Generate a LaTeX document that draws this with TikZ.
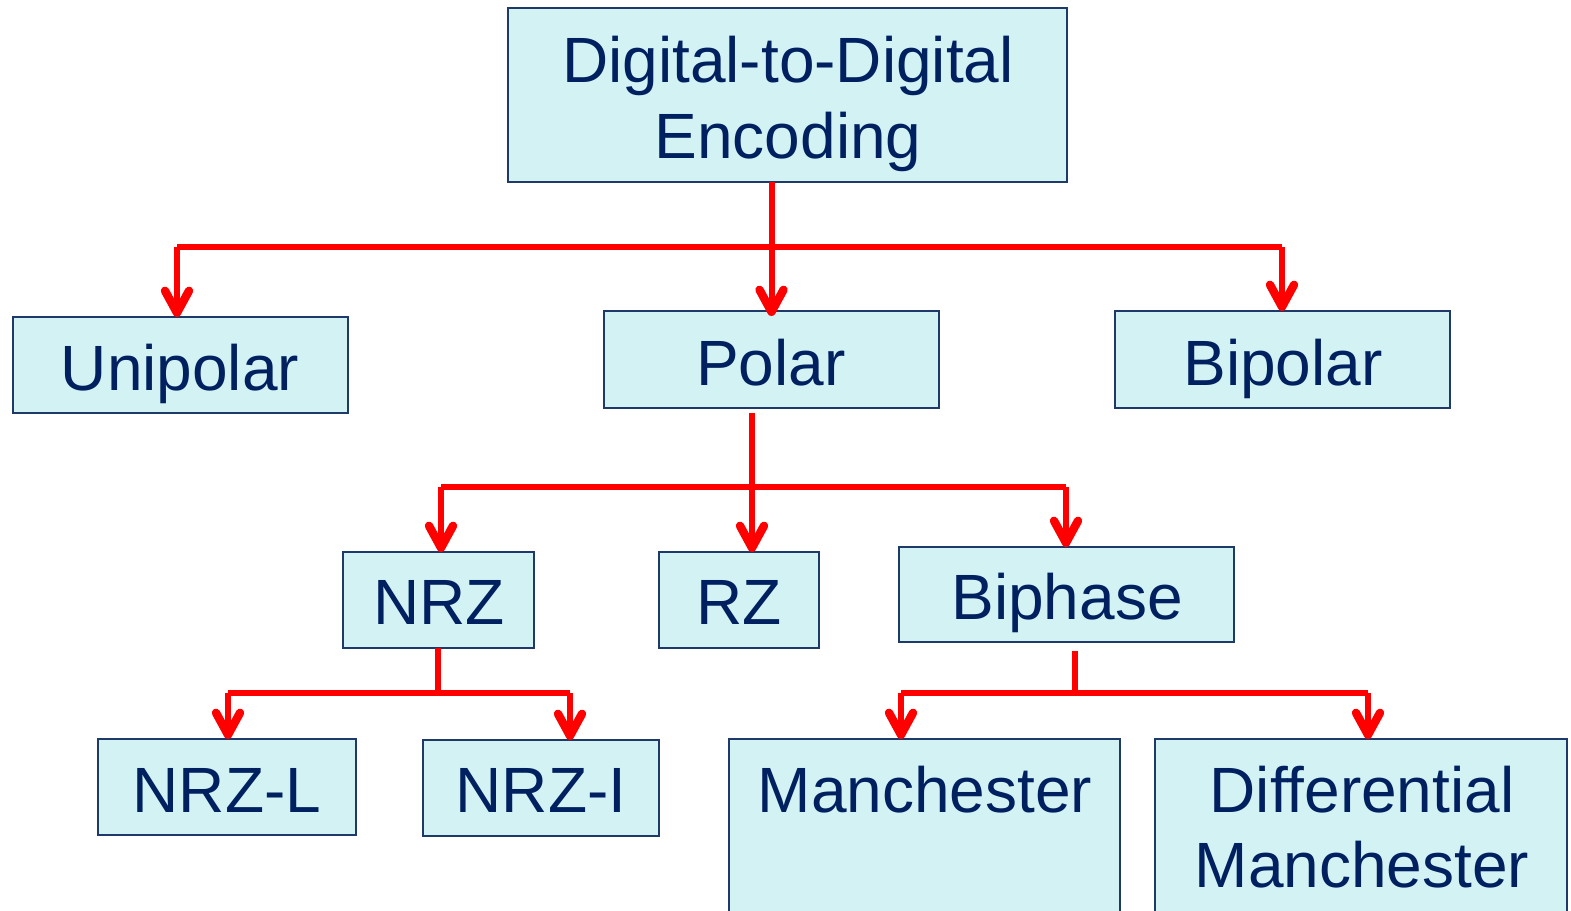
\documentclass[tikz,border=0pt]{standalone}
\usepackage{fontspec}
\setmainfont{Liberation Sans}
\usetikzlibrary{arrows.meta}
\definecolor{boxfill}{HTML}{D3F2F4}
\definecolor{boxdraw}{HTML}{1F3A68}
\definecolor{txt}{HTML}{002060}
\definecolor{lnred}{HTML}{FF0000}
\tikzset{
  box/.style={draw=boxdraw, fill=boxfill, line width=1.8pt, inner sep=0pt, outer sep=0pt, rectangle},
  lbl/.style={text=txt, font=\fontsize{64}{76}\selectfont, inner sep=0pt, anchor=base},
  ln/.style={draw=lnred, line width=6pt},
  arr/.style={ln, -{Straight Barb[length=22pt,width=24pt,line width=0pt 1.4,round]}},
}
\newcommand{\bx}[5]{\node[box, minimum width={#4-#2}, minimum height={#5-#3}] (#1) at ({(#2+#4)/2},{(#3+#5)/2}) {};}
\begin{document}
\begin{tikzpicture}[x=1pt,y=-1pt]
\useasboundingbox (0,0) rectangle (1571,910);
\clip (0,0) rectangle (1571,910);
\fill[white] (0,0) rectangle (1571,910);
% boxes
\bx{top}{508}{8}{1067}{182}
\bx{uni}{13}{317}{348}{413}
\bx{pol}{604}{311}{939}{408}
\bx{bip}{1115}{311}{1450}{408}
\bx{nrz}{343}{552}{534}{648}
\bx{rz}{659}{552}{819}{648}
\bx{bph}{899}{547}{1234}{642}
\bx{nrzl}{98}{739}{356}{835}
\bx{nrzi}{423}{740}{659}{836}
\bx{man}{729}{739}{1120}{990}
\bx{dman}{1155}{739}{1567}{990}
% labels
\node[lbl] (t1) at (788,82) {Digital-to-Digital};
\node[lbl] (t2) at (788,158) {Encoding};
\node[lbl] (tuni) at (180,390) {Unipolar};
\node[lbl] (tpol) at (771,385) {Polar};
\node[lbl] (tbip) at (1283,385) {Bipolar};
\node[lbl] (tnrz) at (439,624) {NRZ};
\node[lbl] (trz) at (739,624) {RZ};
\node[lbl] (tbph) at (1067,619) {Biphase};
\node[lbl] (tnrzl) at (227,812) {NRZ-L};
\node[lbl] (tnrzi) at (541,812) {NRZ-I};
\node[lbl] (tman) at (925,812) {Manchester};
\node[lbl] (td1) at (1362,812) {Differential};
\node[lbl] (td2) at (1362,887) {Manchester};
% connectors level 1
\coordinate (a1) at (177,247);
\coordinate (a2) at (1282,247);
\draw[ln] (a1) -- (a2);
\draw[arr] (top.south -| pol.north) -- ([yshift=-5pt]pol.north);
\draw[arr] (a1) -- (a1 |- uni.north);
\draw[arr] (a2) -- (a2 |- bip.north);
% level 2
\coordinate (ps) at (752,413);
\coordinate (b1) at (441,487);
\coordinate (b2) at (1066,487);
\draw[ln] (b1) -- (b2);
\draw[arr] (ps) -- (ps |- rz.north);
\draw[arr] (b1) -- (b1 |- nrz.north);
\draw[arr] (b2) -- (b2 |- bph.north);
% level 3 NRZ
\coordinate (ns) at (438,648);
\coordinate (c0) at (438,693);
\coordinate (c1) at (228,693);
\coordinate (c2) at (570,693);
\draw[ln] (ns) -- (c0);
\draw[ln] (c1) -- (c2);
\draw[arr] (c1) -- (c1 |- nrzl.north);
\draw[arr] (c2) -- (c2 |- nrzi.north);
% level 3 Biphase
\coordinate (bs) at (1075,651);
\coordinate (d0) at (1075,693);
\coordinate (d1) at (901,693);
\coordinate (d2) at (1368,693);
\draw[ln] (bs) -- (d0);
\draw[ln] (d1) -- (d2);
\draw[arr] (d1) -- (d1 |- man.north);
\draw[arr] (d2) -- (d2 |- dman.north);
\end{tikzpicture}
\end{document}
